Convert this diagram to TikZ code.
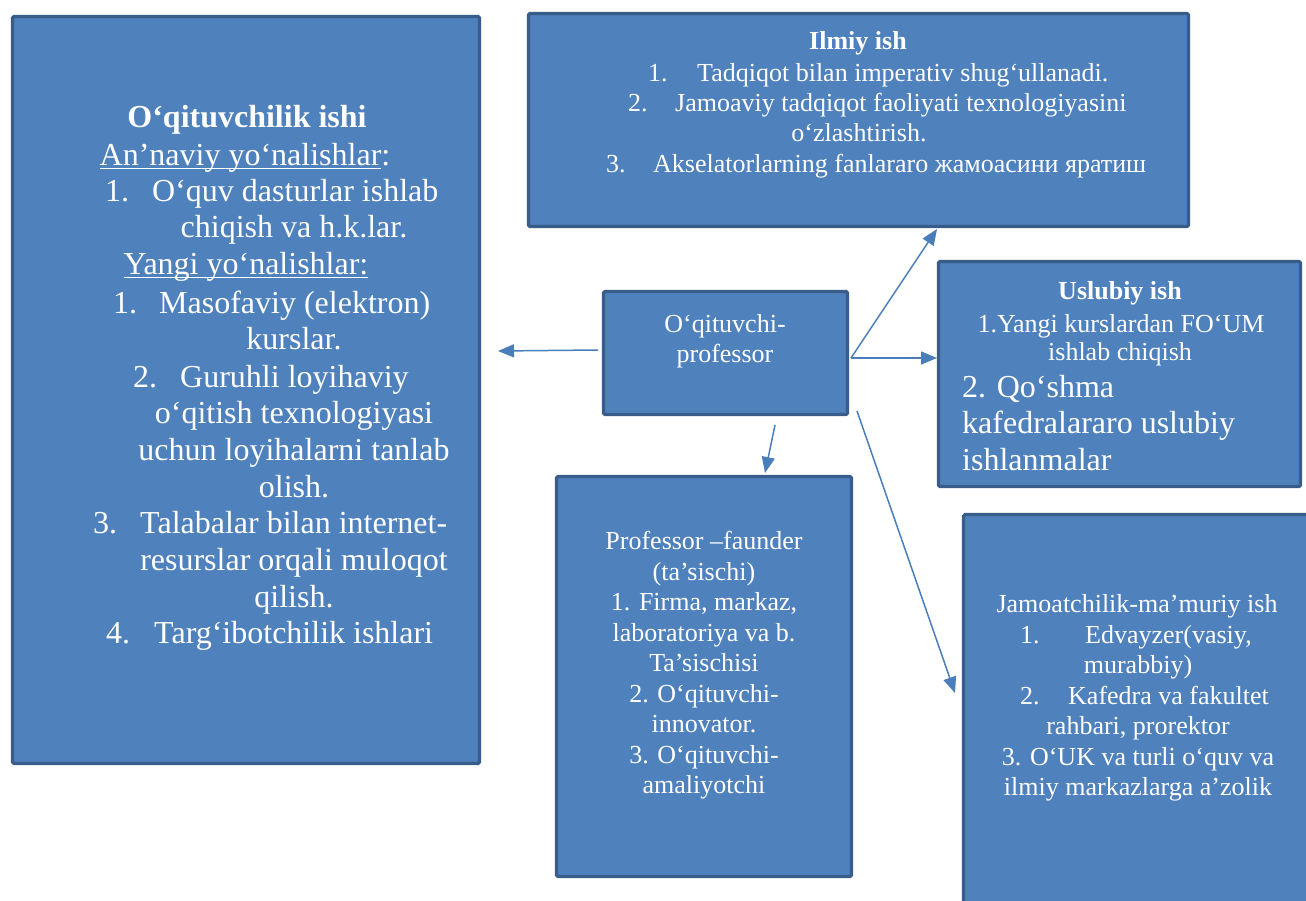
\documentclass[tikz,border=0pt]{standalone}
\usepackage{fontspec}
\setmainfont{Liberation Serif}
\usetikzlibrary{arrows.meta}
\definecolor{boxfill}{HTML}{4F81BD}
\definecolor{boxline}{HTML}{385D8A}
\definecolor{arrowc}{HTML}{4A7EBB}
\newcommand\fbig{\fontsize{32}{37}\selectfont}
\newcommand\fmid{\fontsize{26}{30}\selectfont}
\newcommand\myul[1]{\setbox0\hbox{#1}\rlap{\rule[-3.5pt]{\wd0}{1.6pt}}\box0}
\tikzset{
  panel/.style={draw=boxline, fill=boxfill, line width=3.2pt, rounded corners=1.5pt, inner sep=0pt},
  tc/.style={text=white, inner sep=0pt, anchor=base},
  tw/.style={text=white, inner sep=0pt, anchor=base west},
  big/.style={font=\fbig},
  mid/.style={font=\fmid},
  conn/.style={draw=arrowc, line width=1.5pt, -{Triangle[length=16pt,width=13pt]}}
}
\begin{document}
\begin{tikzpicture}[x=1pt,y=-1pt]
\useasboundingbox (0,0) rectangle (1306,901);
\clip (0,0) rectangle (1306,901);
% panels
\node[panel, minimum width=467pt, minimum height=747pt] (left) at (246,390) {};
\node[panel, minimum width=660pt, minimum height=213pt] (ilmiy) at (858.5,120) {};
\node[panel, minimum width=244pt, minimum height=123pt] (center) at (725.5,353) {};
\node[panel, minimum width=362pt, minimum height=225pt] (uslub) at (1119.5,374) {};
\node[panel, minimum width=295pt, minimum height=400pt] (prof) at (704,676.5) {};
\node[panel, minimum width=375pt, minimum height=424pt] (jamoat) at (1151,726.5) {};

% left panel text
\node[tc, big] (l1) at (247,128) {\bfseries O‘qituvchilik ishi};
\node[tc, big] (l2) at (245,166) {\myul{An’naviy yo‘nalishlar}:};
\node[tw, big] (l3n) at (105,202) {1.};
\node[tw, big] (l3) at (152,202) {O‘quv dasturlar ishlab};
\node[tc, big] (l4) at (294,238) {chiqish va h.k.lar.};
\node[tc, big] (l5) at (246,275) {\myul{Yangi yo‘nalishlar:}};
\node[tw, big] (l6n) at (113,313) {1.};
\node[tw, big] (l6) at (159,313) {Masofaviy (elektron)};
\node[tc, big] (l7) at (294,349) {kurslar.};
\node[tw, big] (l8n) at (133,387) {2.};
\node[tw, big] (l8) at (180,387) {Guruhli loyihaviy};
\node[tc, big] (l9) at (294,423) {o‘qitish texnologiyasi};
\node[tc, big] (l10) at (294,460) {uchun loyihalarni tanlab};
\node[tc, big] (l11) at (294,497) {olish.};
\node[tw, big] (l12n) at (93,533) {3.};
\node[tw, big] (l12) at (140,533) {Talabalar bilan internet-};
\node[tc, big] (l13) at (294,570) {resurslar orqali muloqot};
\node[tc, big] (l14) at (294,607) {qilish.};
\node[tw, big] (l15n) at (106,643) {4.};
\node[tw, big] (l15) at (154,643) {Targ‘ibotchilik ishlari};

% ilmiy panel text
\node[tc, mid] (i1) at (858,50) {\bfseries Ilmiy ish};
\node[tw, mid] (i2n) at (648,82) {1.};
\node[tw, mid] (i2) at (697,82) {Tadqiqot bilan imperativ shug‘ullanadi.};
\node[tw, mid] (i3n) at (628,112) {2.};
\node[tw, mid] (i3) at (675,112) {Jamoaviy tadqiqot faoliyati texnologiyasini};
\node[tc, mid] (i4) at (859,142) {o‘zlashtirish.};
\node[tw, mid] (i5n) at (606,173) {3.};
\node[tw, mid] (i5) at (653,173) {Akselatorlarning fanlararo жамоасини яратиш};

% center panel text
\node[tc, mid] (c1) at (725,332) {O‘qituvchi-};
\node[tc, mid] (c2) at (725,362) {professor};

% uslubiy panel text
\node[tc, mid] (u1) at (1120,300) {\bfseries Uslubiy ish};
\node[tc, mid] (u2) at (1121,332) {1.Yangi kurslardan FO‘UM};
\node[tc, mid] (u3) at (1120,360) {ishlab chiqish};
\node[tw, big] (u4) at (962,397) {2. Qo‘shma};
\node[tw, big] (u5) at (962,433) {kafedralararo uslubiy};
\node[tw, big] (u6) at (962,470) {ishlanmalar};

% professor-faunder panel text
\node[tc, mid] (p1) at (704,549) {Professor –faunder};
\node[tc, mid] (p2) at (704,580) {(ta’sischi)};
\node[tc, mid] (p3) at (704,610) {1. Firma, markaz,};
\node[tc, mid] (p4) at (704,641) {laboratoriya va b.};
\node[tc, mid] (p5) at (704,671) {Ta’sischisi};
\node[tc, mid] (p6) at (704,702) {2. O‘qituvchi-};
\node[tc, mid] (p7) at (704,732) {innovator.};
\node[tc, mid] (p8) at (704,763) {3. O‘qituvchi-};
\node[tc, mid] (p9) at (704,793) {amaliyotchi};

% jamoat panel text
\node[tc, mid] (j1) at (1137,612) {Jamoatchilik-ma’muriy ish};
\node[tw, mid] (j2n) at (1020,643) {1.};
\node[tw, mid] (j2) at (1085,643) {Edvayzer(vasiy,};
\node[tc, mid] (j3) at (1138,673) {murabbiy)};
\node[tw, mid] (j4n) at (1020,704) {2.};
\node[tw, mid] (j4) at (1068,704) {Kafedra va fakultet};
\node[tc, mid] (j5) at (1138,734) {rahbari, prorektor};
\node[tc, mid] (j6) at (1138,765) {3. O‘UK va turli o‘quv va};
\node[tc, mid] (j7) at (1138,795) {ilmiy markazlarga a’zolik};

% connector end points
\coordinate (sL) at (598,350);
\coordinate (tL) at (498,351);
\coordinate (sR) at (851,358);
\coordinate (tI) at (937,229);
\coordinate (tU) at (937,358);
\coordinate (sD) at (775,425);
\coordinate (tP) at (765,473);
\coordinate (sJ) at (857,411);
\coordinate (tJ) at (955,693);

\draw[conn] (sL) -- (tL);
\draw[conn] (sR) -- (tI);
\draw[conn] (sR) -- (tU);
\draw[conn] (sD) -- (tP);
\draw[conn] (sJ) -- (tJ);
\end{tikzpicture}
\end{document}
